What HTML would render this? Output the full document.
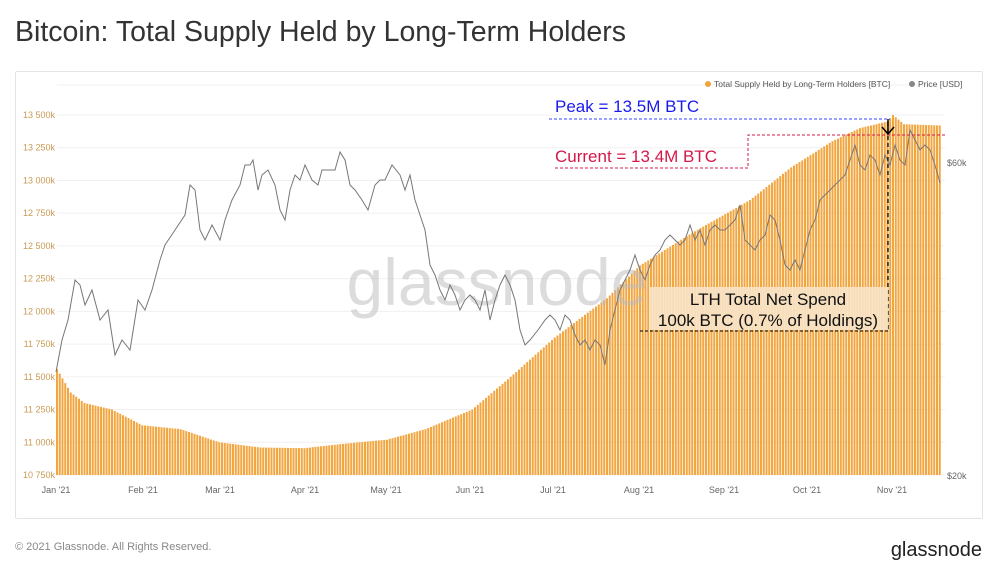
<!DOCTYPE html>
<html><head><meta charset="utf-8"><style>
body{margin:0;width:1000px;height:572px;background:#fff;font-family:"Liberation Sans",sans-serif;overflow:hidden;position:relative}
.t{position:absolute;left:15px;top:16px;font-size:28.5px;color:#333}
.card{position:absolute;left:15px;top:71px;width:966px;height:446px;border:1px solid #e4e4e4;border-radius:2px}
.ft{position:absolute;left:15px;top:541px;font-size:11px;color:#888}
.lg{position:absolute;right:18px;bottom:10px;font-size:20px;color:#222}
svg{position:absolute;left:0;top:0}
</style></head><body>
<div class="t">Bitcoin: Total Supply Held by Long-Term Holders</div>
<div class="card"></div>
<div class="ft">© 2021 Glassnode. All Rights Reserved.</div>
<div class="lg">glassnode</div>
<svg id="s" width="1000" height="572" xmlns="http://www.w3.org/2000/svg" font-family="Liberation Sans, sans-serif"></svg>
<script>
const s=document.getElementById('s');let h='';
const yv=v=>475-(v-10750)*360/2750;
const labs=['10 750k','11 000k','11 250k','11 500k','11 750k','12 000k','12 250k','12 500k','12 750k','13 000k','13 250k','13 500k'];
labs.forEach((l,i)=>{const y=yv(10750+i*250);h+=`<line x1="57" x2="945" y1="${y}" y2="${y}" stroke="#f0f0f0"/><text x="55" y="${y+3}" font-size="9" fill="#c89a55" text-anchor="end">${l}</text>`});
h+=`<line x1="57" x2="945" y1="85" y2="85" stroke="#f2f2f2"/>`;
const ml=[["Jan '21",56],["Feb '21",143],["Mar '21",220],["Apr '21",305],["May '21",386],["Jun '21",470],["Jul '21",553],["Aug '21",639],["Sep '21",724],["Oct '21",807],["Nov '21",892]];
ml.forEach(m=>h+=`<text x="${m[1]}" y="493" font-size="9" fill="#666" text-anchor="middle">${m[0]}</text>`);
const K=[[0,11560],[5,11380],[10,11300],[20,11250],[31,11130],[45,11100],[59,11000],[74,10960],[90,10955],[105,10990],[120,11020],[134,11100],[151,11250],[165,11500],[181,11800],[200,12100],[212,12350],[231,12600],[252,12850],[267,13100],[282,13300],[292,13400],[302,13450],[304,13500],[308,13430],[321,13420]];
function iv(d){for(let i=0;i<K.length-1;i++)if(d<=K[i+1][0]){const a=K[i],b=K[i+1],t=(d-a[0])/(b[0]-a[0]);return a[1]+(b[1]-a[1])*t}return K[K.length-1][1]}
for(let d=0;d<=321;d++){const x=56+d*2.75,y=yv(iv(d));h+=`<rect x="${x.toFixed(2)}" y="${y.toFixed(1)}" width="2" height="${(475-y).toFixed(1)}" fill="#f2a640"/>`}
h+=`<text x="497" y="305" font-size="66" fill="#bbb" opacity="0.5" text-anchor="middle">glassnode</text>`;
const P="56,372 62,340 68,320 75,280 80,285 85,305 92,290 100,320 108,310 115,355 122,340 130,350 138,300 145,310 152,290 160,260 165,245 175,230 185,215 190,185 195,190 200,230 205,240 212,225 220,240 225,220 232,200 240,185 245,165 250,165 253,160 258,190 262,175 268,170 275,185 280,210 285,220 290,190 295,175 300,180 305,165 312,180 318,185 322,170 330,170 335,170 340,152 345,160 350,185 355,190 362,200 368,210 375,185 380,180 385,180 392,165 400,175 405,190 410,175 415,200 420,215 425,230 430,265 435,275 440,290 445,300 450,285 455,295 460,310 465,300 470,295 475,300 480,310 485,290 490,320 495,300 500,285 505,275 510,285 515,300 520,330 525,345 530,340 538,330 545,320 550,315 555,320 560,330 565,315 570,320 575,335 580,345 585,340 590,350 595,340 600,345 605,365 610,330 615,310 620,290 625,280 630,270 635,255 640,270 645,280 650,265 655,255 660,250 665,240 670,235 675,240 680,245 685,240 690,225 695,240 700,230 705,245 710,230 715,225 720,230 725,230 730,225 735,220 740,205 745,240 750,245 755,250 760,240 765,235 770,215 775,220 780,240 785,265 790,270 795,260 800,270 805,250 810,230 815,220 820,200 825,195 830,190 835,185 840,180 845,175 850,160 855,145 860,165 865,170 870,155 875,160 880,175 885,155 890,165 895,145 900,160 905,165 910,130 915,140 920,150 925,145 930,150 935,165 940,183";
h+=`<polyline points="${P}" fill="none" stroke="#777" stroke-width="1"/>`;
h+=`<text x="947" y="166" font-size="9" fill="#666">$60k</text><text x="947" y="479" font-size="9" fill="#666">$20k</text>`;
h+=`<circle cx="708" cy="84" r="3" fill="#f0a43a"/><text x="714" y="87" font-size="8.5" fill="#555">Total Supply Held by Long-Term Holders [BTC]</text><circle cx="912" cy="84" r="3" fill="#888"/><text x="918" y="87" font-size="8.5" fill="#555">Price [USD]</text>`;
h+=`<line x1="549" x2="890" y1="119" y2="119" stroke="#3344ff" stroke-dasharray="3,2"/>`;
h+=`<text x="555" y="112" font-size="17" fill="#1a1aee">Peak = 13.5M BTC</text>`;
h+=`<polyline points="555,168 748,168 748,135 945,135" fill="none" stroke="#d4194a" stroke-dasharray="3,2"/>`;
h+=`<text x="555" y="162" font-size="17" fill="#d4194a">Current = 13.4M BTC</text>`;
h+=`<line x1="888" x2="888" y1="122" y2="330" stroke="#000" stroke-dasharray="4,3" stroke-width="1.3"/>`;
h+=`<path d="M888 119 L888 134 M882 127 L888 134 L894 127" stroke="#000" fill="none" stroke-width="1.5"/>`;
h+=`<rect x="650" y="287" width="238" height="43" fill="#f7e3c6" opacity="0.9"/>`;
h+=`<line x1="640" x2="888" y1="331" y2="331" stroke="#000" stroke-dasharray="3,2"/>`;
h+=`<text x="768" y="305" font-size="17" fill="#111" text-anchor="middle">LTH Total Net Spend</text><text x="768" y="326" font-size="17" fill="#111" text-anchor="middle">100k BTC (0.7% of Holdings)</text>`;
s.innerHTML=h;
</script>
</body></html>
